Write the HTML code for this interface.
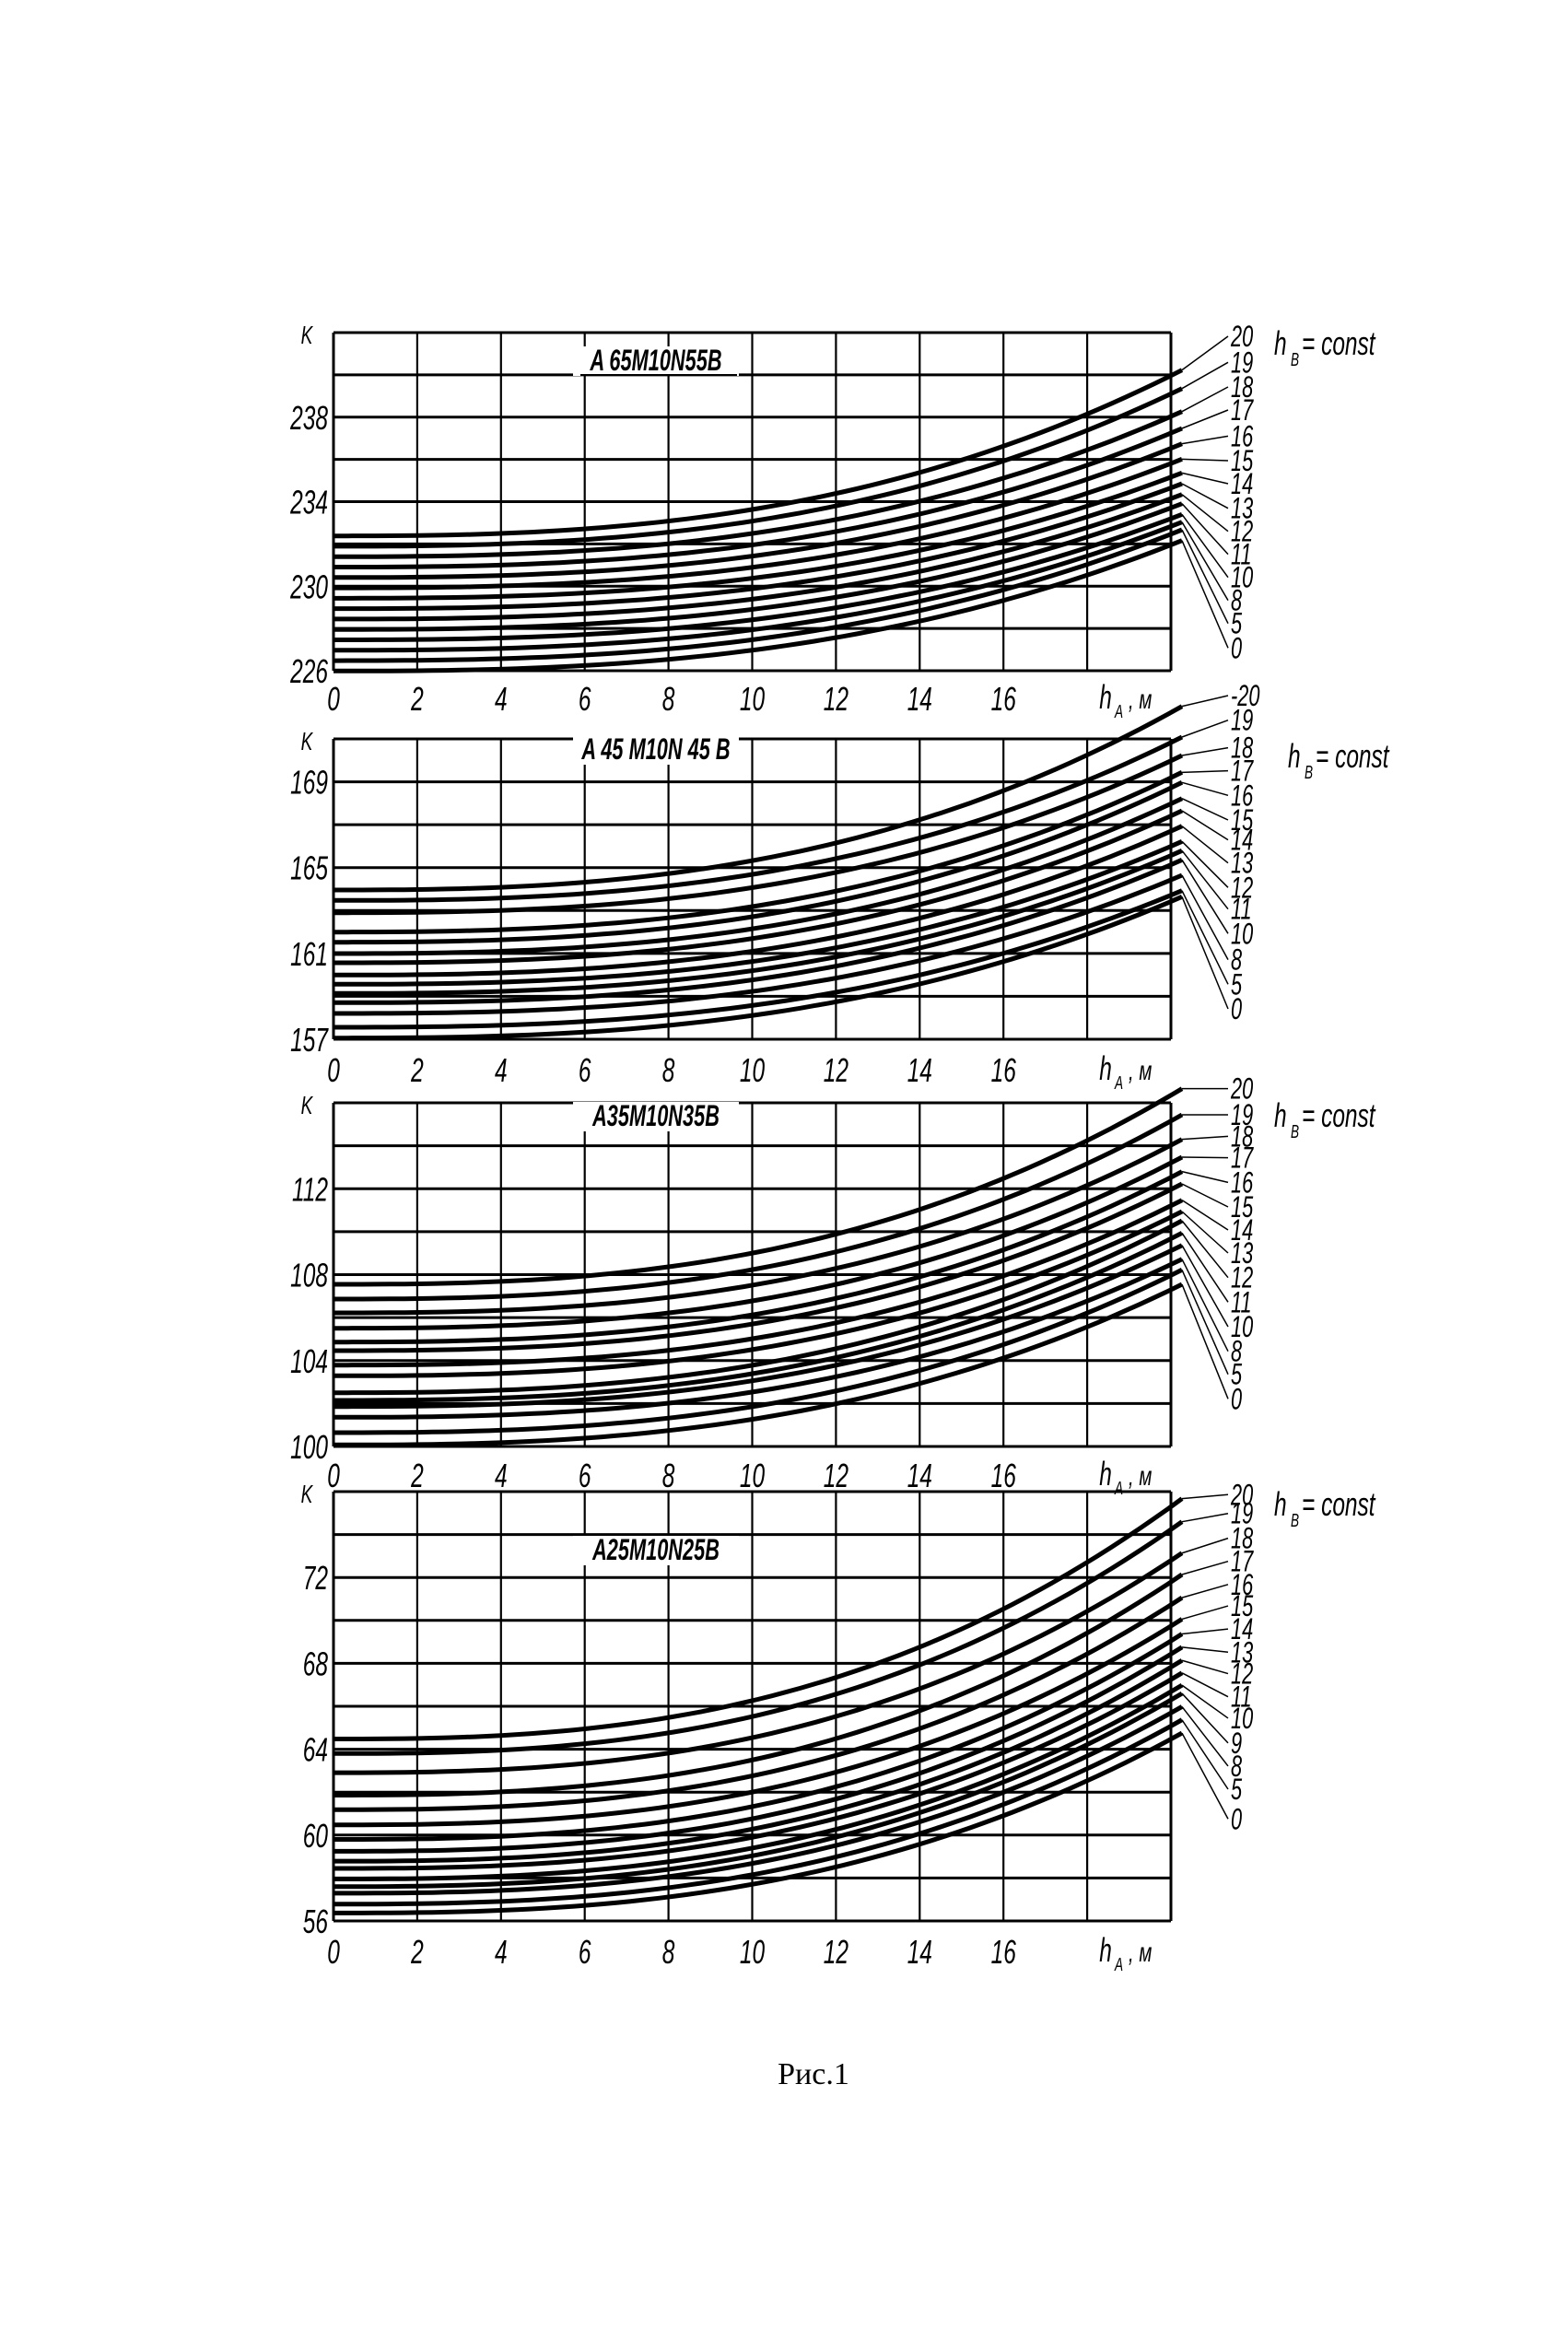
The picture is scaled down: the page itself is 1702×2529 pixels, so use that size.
<!DOCTYPE html>
<html><head><meta charset="utf-8"><style>
html,body{margin:0;padding:0;background:#fff;}
svg{display:block;}
text{font-family:"Liberation Sans",sans-serif;font-style:italic;fill:#000;}
</style></head><body>
<svg id="s" width="1702" height="2529" viewBox="0 0 1702 2529" xmlns="http://www.w3.org/2000/svg">
<rect width="1702" height="2529" fill="#fff"/>
<text x="883" y="2262" font-size="34" text-anchor="middle" style="font-family:'Liberation Serif',serif;font-style:normal">Рис.1</text>
</svg>
<script>
var S=document.getElementById('s');var out='';
var XL=362,XR=1271,XE=1283;
function tx(x,y,str,size,anchor,extra){
 return '<text transform="translate('+x+','+y+') scale(0.68,1)" font-size="'+size+'" text-anchor="'+(anchor||'start')+'" '+(extra||'')+'>'+str+'</text>';
}
var P=[
{top:361,bot:728,n:8,lab:{2:'238',4:'234',6:'230',8:'226'},y0:330,s:3,
 st:null,s0:755,s1:1195,
 en:[215,275,350,405,455,505,550,585,620,650,685,710,735,770],
 lb:[105,190,270,345,430,510,585,665,740,815,890,965,1040,1120],
 names:['20','19','18','17','16','15','14','13','12','11','10','8','5','0'],
 title:'A 65M10N55B',ty:402,ul:true,hb:[1383,385],tick:757},
{top:802,bot:1128,n:7,lab:{1:'169',3:'165',5:'161',7:'157'},y0:740,s:3,
 st:[678,712,752,815,848,885,915,955,985,1015,1045,1080,1125,1160],
 en:[80,180,240,295,328,380,420,470,520,550,580,630,680,700],
 lb:[45,125,215,290,370,450,515,590,670,740,820,905,985,1065],
 names:['-20','19','18','17','16','15','14','13','12','11','10','8','5','0'],
 title:'A 45 M10N 45 B',ty:824,hb:[1398,833],tick:1160},
{top:1197,bot:1570,n:8,lab:{2:'112',4:'108',6:'104',8:'100'},y0:1170,s:3,
 st:[672,720,765,815,860,888,935,970,1025,1050,1070,1105,1155,1195],
 en:[35,120,200,258,305,345,398,435,465,505,545,590,625,672],
 lb:[35,120,190,260,340,420,495,570,650,730,810,890,965,1045],
 names:['20','19','18','17','16','15','14','13','12','11','10','8','5','0'],
 title:'A35M10N35B',ty:1222,hb:[1383,1223],tick:1600},
{top:1619,bot:2085,n:10,lab:{2:'72',4:'68',6:'64',8:'60',10:'56'},y0:1580,s:2.79,
 st:[858,902,960,1028,1072,1118,1162,1198,1228,1250,1282,1305,1325,1358,1385],
 en:[130,200,295,360,430,495,540,580,620,658,695,720,760,800,840],
 lb:[118,175,250,320,390,455,525,595,660,730,795,870,940,1010,1100],
 names:['20','19','18','17','16','15','14','13','12','11','10','9','8','5','0'],
 title:'A25M10N25B',ty:1693,hb:[1383,1645],tick:2117}
];
P.forEach(function(p){
 var h=(p.bot-p.top)/p.n;
 for(var i=0;i<=p.n;i++){var y=p.top+i*h;out+='<line x1="'+XL+'" y1="'+y+'" x2="'+XR+'" y2="'+y+'" stroke="#000" stroke-width="3"/>';
  if(p.lab[i])out+=tx(356,y+13,p.lab[i],36,'end');}
 for(var j=0;j<=10;j++){var x=XL+j*(XR-XL)/10;out+='<line x1="'+x+'" y1="'+p.top+'" x2="'+x+'" y2="'+p.bot+'" stroke="#000" stroke-width="'+(j==0||j==10?3:2.2)+'"/>';
  if(j<9)out+=tx(x,p.tick+14,String(j*2),36,'middle');}
 out+=tx(1200,p.tick+12,'h',36,'middle')+tx(1210,p.tick+22,'A',20,'start')+tx(1225,p.tick+12,', м',30,'start');
 out+=tx(333,p.top+12,'K',28,'middle');
 out+='<rect x="'+(712-90)+'" y="'+(p.ty-26)+'" width="180" height="32" fill="#fff"/>';
 out+=tx(712,p.ty,p.title,32,'middle','font-weight="bold"');
 if(p.ul)out+='<line x1="630" y1="'+(p.ty+5)+'" x2="800" y2="'+(p.ty+5)+'" stroke="#000" stroke-width="2"/>';
 out+=tx(p.hb[0],p.hb[1],'h',36,'start')+tx(p.hb[0]+18,p.hb[1]+12,'B',20,'start')+tx(p.hb[0]+30,p.hb[1],'= const',36,'start');
 var N=p.en.length;
 for(var k=0;k<N;k++){
  var sd=p.st?p.st[k]:p.s0+k*(p.s1-p.s0)/(N-1);
  var ys=p.y0+sd/p.s, ye=p.y0+p.en[k]/p.s, yl=p.y0+p.lb[k]/p.s;
  var d='';
  for(var m=0;m<=60;m++){var t=m/60;var x=XL+t*(XE-XL);var y=ys+(ye-ys)*Math.pow(t,2.6);d+=(m?'L':'M')+x.toFixed(1)+' '+y.toFixed(1);}
  out+='<path d="'+d+'" fill="none" stroke="#000" stroke-width="5"/>';
  out+='<line x1="'+XE+'" y1="'+ye+'" x2="1333" y2="'+yl+'" stroke="#000" stroke-width="1.5"/>';
  out+=tx(1336,yl+11,p.names[k],32,'start');
 }
});
S.insertAdjacentHTML('beforeend',out);
</script>
</body></html>
